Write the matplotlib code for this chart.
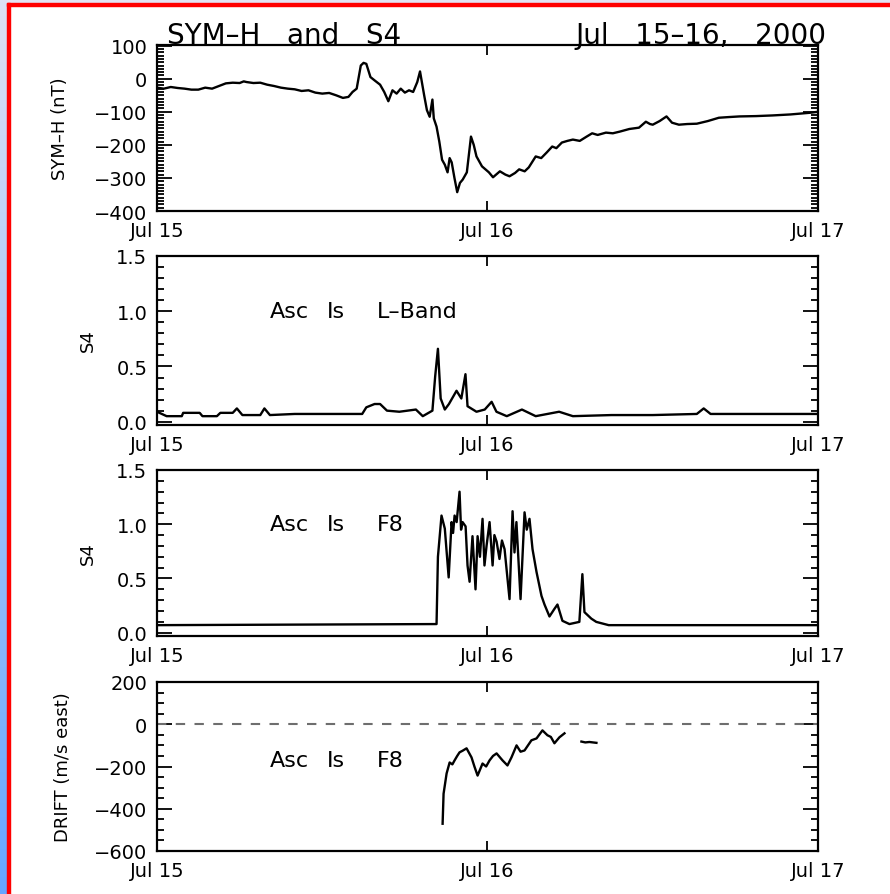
import numpy as np
import matplotlib
matplotlib.use('Agg')
import matplotlib.pyplot as plt
from matplotlib.ticker import MultipleLocator, FixedLocator
from matplotlib.patches import Rectangle
from matplotlib.colors import LinearSegmentedColormap

plt.rcParams['font.family'] = ['DejaVu Sans']

# x axis: hours since Jul 15 00 UT
day_ticks = [0, 24, 48]
day_labels = ['Jul 15', 'Jul 16', 'Jul 17']

# SYM-H (nT)
symh_hours = [0, 0.5, 1.0, 1.5, 2.0, 2.5, 3.0, 3.5, 4.0, 4.5, 5.0, 5.5, 6.0, 6.3, 6.5, 7.0, 7.5,
              8.0, 8.5, 9.0, 9.5, 10.0, 10.5, 11.0, 11.5, 12.0, 12.5, 13.0, 13.5, 13.9, 14.2,
              14.5, 14.8, 15.0, 15.2, 15.5, 15.8, 16.2, 16.5, 16.8, 17.1, 17.4, 17.7, 18.0,
              18.3, 18.6, 18.9, 19.1, 19.4, 19.6, 19.8, 20.0, 20.1, 20.3, 20.5, 20.7, 20.9,
              21.1, 21.25, 21.4, 21.6, 21.8, 22.0, 22.2, 22.5, 22.8, 23.0, 23.2, 23.6, 24.1,
              24.4, 24.9, 25.3, 25.6, 26.0, 26.3, 26.7, 27.0, 27.5, 27.9, 28.3, 28.7, 29.0,
              29.4, 29.8, 30.2, 30.7, 31.2, 31.6, 32.0, 32.6, 33.1, 33.6, 34.3, 35.0, 35.5,
              35.8, 36.0, 36.5, 37.0, 37.4, 37.9, 38.5, 39.2, 40.0, 40.8, 41.5, 42.3, 43.5,
              44.7, 46.0, 47.4, 48.0]
symh_vals = [-27, -30, -25, -28, -30, -33, -33, -27, -30, -22, -14, -12, -13, -8, -10, -13, -12,
             -18, -22, -27, -30, -32, -37, -35, -42, -45, -43, -50, -58, -55, -40,
             -30, 40, 48, 45, 5, -5, -18, -40, -68, -35, -45, -30, -42,
             -35, -40, -10, 22, -50, -95, -115, -63, -120, -145, -190, -245, -260,
             -283, -240, -253, -300, -343, -315, -305, -283, -175, -200, -235, -265, -283,
             -298, -280, -290, -295, -285, -274, -280, -268, -235, -240, -223, -205, -210,
             -193, -188, -184, -188, -175, -165, -170, -163, -165, -160, -152, -148, -130,
             -137, -139, -128, -114, -133, -139, -137, -136, -128, -118, -116, -114, -113,
             -111, -108, -103, -100]

# S4, Ascension Island L-Band
lband_hours = [0, 0.7, 1.8, 1.9, 3.1, 3.3, 4.35, 4.6, 5.5, 5.8, 6.2, 7.5, 7.8, 8.2, 10.0,
               12.0, 14.9, 15.2, 15.8, 16.2, 16.7, 17.6, 18.8, 19.3, 20.0, 20.2, 20.4, 20.6,
               20.9, 21.2, 21.75, 22.1, 22.4, 22.55, 23.2, 23.8, 24.3, 24.65, 25.4, 26.5,
               27.5, 29.2, 30.2, 33.0, 36.0, 39.2, 39.7, 40.2, 43.0, 48.0]
lband_s4 = [0.09, 0.05, 0.05, 0.08, 0.08, 0.05, 0.05, 0.08, 0.08, 0.12, 0.06, 0.06, 0.12, 0.06,
            0.07, 0.07, 0.07, 0.13, 0.16, 0.16, 0.10, 0.09, 0.11, 0.05, 0.10, 0.41, 0.66, 0.21,
            0.11, 0.16, 0.28, 0.21, 0.43, 0.14, 0.09, 0.11, 0.18, 0.09, 0.05, 0.11,
            0.05, 0.09, 0.05, 0.06, 0.06, 0.07, 0.12, 0.07, 0.07, 0.07]

# S4, Ascension Island F8
f8_hours = [0, 20.3, 20.4, 20.66, 20.9, 21.18, 21.39, 21.5, 21.61, 21.76, 21.97, 22.08, 22.19,
            22.41, 22.55, 22.7, 22.91, 23.13, 23.28, 23.45, 23.64, 23.78, 23.93, 24.15, 24.37,
            24.5, 24.66, 24.87, 25.05, 25.24, 25.6, 25.82, 25.96, 26.1, 26.4, 26.69, 26.85,
            27.05, 27.27, 27.56, 27.92, 28.14, 28.5, 28.86, 29.08, 29.44, 29.95, 30.67, 30.89,
            31.04, 31.54, 31.9, 32.8, 48.0]
f8_s4 = [0.07, 0.08, 0.70, 1.08, 0.96, 0.51, 1.02, 0.92, 1.08, 1.02, 1.30, 0.95, 1.02,
         0.98, 0.62, 0.47, 0.89, 0.40, 0.89, 0.70, 1.05, 0.62, 0.80, 1.02, 0.62,
         0.90, 0.84, 0.68, 0.85, 0.77, 0.31, 1.12, 0.74, 1.02, 0.31, 1.11, 0.95,
         1.05, 0.77, 0.56, 0.34, 0.26, 0.15, 0.22, 0.26, 0.11, 0.08, 0.10, 0.54,
         0.19, 0.13, 0.10, 0.07, 0.07]

# zonal drift (m/s east), Ascension Island F8
drift_hours = [20.74, 20.81, 21.03, 21.25, 21.45, 21.61, 21.8, 21.97, 22.2, 22.48, 22.84,
               23.05, 23.28, 23.64, 23.9, 24.15, 24.4, 24.66, 25.09, 25.45, 25.74, 26.11,
               26.4, 26.69, 27.19, 27.56, 27.99, 28.35, 28.6, 28.86, 29.22, 29.59,
               29.9, 30.82, 31.1, 31.4, 31.91]
drift_vals = [-471, -329, -233, -181, -190, -171, -150, -133, -125, -114, -157,
              -200, -243, -186, -200, -171, -150, -138, -171, -195, -157, -100,
              -130, -124, -76, -67, -29, -52, -60, -90, -62, -43,
              np.nan, -82, -86, -84, -88]

fig = plt.figure(figsize=(8.9, 8.95), dpi=100)

# page decoration: blue strip at left, red frame lines
grad_ax = fig.add_axes([0, 0, 7 / 890, 1])
grad_ax.imshow(np.linspace(0, 1, 256)[:, None], aspect='auto',
               cmap=LinearSegmentedColormap.from_list('edge', ['#dde1f4', '#66a6ff']))
grad_ax.axis('off')
fig.add_artist(Rectangle((0, 1 - 4 / 895), 1, 4 / 895, transform=fig.transFigure,
                         color='#e3e3f3', zorder=0))
fig.add_artist(Rectangle((7 / 890, 0), 3 / 890, 1 - 4 / 895, transform=fig.transFigure,
                         color='red'))
fig.add_artist(Rectangle((7 / 890, 1 - 7 / 895), 1, 3 / 895, transform=fig.transFigure,
                         color='red'))


def px_axes(left, top, right, bottom):
    return fig.add_axes([left / 890, 1 - bottom / 895, (right - left) / 890, (bottom - top) / 895])


def style(ax, ylim, major, minor):
    ax.set_xlim(0, 48)
    ax.set_ylim(*ylim)
    ax.xaxis.set_major_locator(FixedLocator(day_ticks))
    ax.set_xticklabels(day_labels)
    ax.yaxis.set_major_locator(MultipleLocator(major))
    ax.yaxis.set_minor_locator(MultipleLocator(minor))
    ax.tick_params(axis='both', which='both', direction='in', top=True, right=True,
                   labelsize=14, width=1.3)
    ax.tick_params(axis='y', which='major', length=11, pad=7)
    ax.tick_params(axis='y', which='minor', length=5)
    ax.tick_params(axis='x', which='major', length=7, pad=7)
    for s in ax.spines.values():
        s.set_linewidth(1.6)


ax1 = px_axes(157, 46, 818, 212)
ax2 = px_axes(157, 257, 818, 426)
ax3 = px_axes(157, 471, 818, 637)
ax4 = px_axes(157, 683, 818, 852)

ax1.plot(symh_hours, symh_vals, color='black', lw=1.7)
style(ax1, (-400, 102), 100, 10)

ax2.plot(lband_hours, lband_s4, color='black', lw=1.7)
style(ax2, (-0.03, 1.5), 0.5, 0.1)

ax3.plot(f8_hours, f8_s4, color='black', lw=1.7)
style(ax3, (-0.03, 1.5), 0.5, 0.1)

ax4.axhline(0, color='#6e6e6e', lw=1.5, dashes=(4.5, 4.5))
ax4.plot(drift_hours, drift_vals, color='black', lw=1.7)
style(ax4, (-600, 200), 200, 50)


def station_label(ax, y, band):
    tr = ax.get_yaxis_transform()
    ax.text(0.171, y, 'Asc', transform=tr, fontsize=16, va='center')
    ax.text(0.257, y, 'Is', transform=tr, fontsize=16, va='center')
    ax.text(0.333, y, band, transform=tr, fontsize=16, va='center')


station_label(ax2, 1.0, 'L–Band')
station_label(ax3, 1.0, 'F8')
station_label(ax4, -170, 'F8')

fig.text(167 / 890, 1 - 44 / 895, 'SYM–H   and   S4', fontsize=20, va='baseline', ha='left')
fig.text(826 / 890, 1 - 44 / 895, 'Jul   15–16,   2000', fontsize=20, va='baseline', ha='right')

fig.text(60 / 890, 1 - 129 / 895, 'SYM–H (nT)', rotation=90, fontsize=13, ha='center', va='center')
fig.text(88 / 890, 1 - 341 / 895, 'S4', rotation=90, fontsize=13, ha='center', va='center')
fig.text(88 / 890, 1 - 554 / 895, 'S4', rotation=90, fontsize=13, ha='center', va='center')
fig.text(63 / 890, 1 - 767 / 895, 'DRIFT (m/s east)', rotation=90, fontsize=13, ha='center', va='center')

fig.savefig('out.png', dpi=100)
